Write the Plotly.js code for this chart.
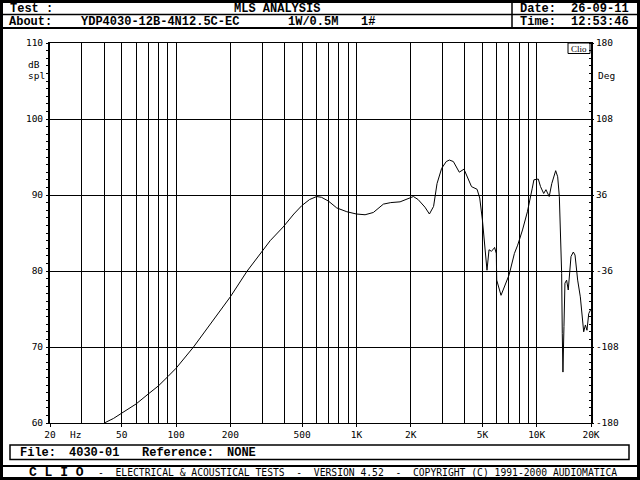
<!DOCTYPE html>
<html>
<head>
<meta charset="utf-8">
<script src="https://cdn.plot.ly/plotly-3.0.1.min.js"></script>
<style>html,body{margin:0;padding:0;background:#fff}#chart{width:640px;height:480px}</style>
</head>
<body>
<div id="chart"></div>
<script>
// Frequency response (Hz) and SPL (dB)
var freqHz = [40,45,50,60,70,80,90,100,125,150,200,248,290,333,393,450,498,550,602,640,700,778,885,1000,1117,1242,1412,1550,1747,1950,2071,2200,2400,2541,2680,2800,2970,3150,3280,3450,3600,3720,3950,4080,4350,4670,4830,5000,5150,5300,5440,5600,5720,5840,5970,6000,6340,6700,7030,7520,7840,8340,8880,9450,9650,10200,10500,10930,11250,11730,12120,12740,13070,13350,13640,13750,13860,13980,14160,14340,14650,14960,15490,15960,16310,16870,17450,18220,18620,19000,19430,20000];
var splDb = [60.0,60.6,61.3,62.5,63.8,64.9,66.1,67.2,70.0,72.6,76.6,80.0,82.2,84.0,85.8,87.5,88.6,89.4,89.8,89.7,89.2,88.3,87.8,87.5,87.4,87.7,88.8,89.0,89.1,89.6,89.8,89.4,88.4,87.5,88.5,91.5,93.5,94.4,94.6,94.4,93.6,93.0,93.4,92.6,91.1,90.75,89.6,86.7,82.8,80.1,82.8,82.6,82.8,83.1,82.3,78.8,76.8,78.4,79.5,82.3,83.4,85.4,87.8,90.9,92.0,92.1,91.1,90.2,90.7,89.8,91.5,93.2,92.4,89.8,84.1,79.7,71.8,66.7,72.7,78.4,78.8,77.5,81.9,82.5,82.1,78.8,76.6,72.0,72.9,72.2,74.4,75.0];

var xLabelVals = [20,50,100,200,500,1000,2000,5000,10000,20000];
var xLabelText = ['20','50','100','200','500','1K','2K','5K','10K','20K'];
var xGridVals = [30,40,50,60,70,80,90,100,200,300,400,500,600,700,800,900,1000,2000,3000,4000,5000,6000,7000,8000,9000,10000,20000];
var yTickVals = [60,70,80,90,100,110];
var y2TickVals = [-180,-108,-36,36,108,180];
var y2TickText = ['-180','-108','-36','36','108','180'];

var NB = '\u00a0';
function sp(s){ return s.replace(/ /g, NB); }
var L = 50, R = 591, T = 43, B = 423;
function px(x){ return (x - L) / (R - L); }
function py(y){ return (B - y) / (B - T); }

var mono = 'DejaVu Sans Mono, monospace';
var lmono = 'Liberation Mono, monospace';
var tickFont = {family: mono, size: 9.5, color: '#000'};

function ann(x, y, text, opts){
  opts = opts || {};
  return {xref:'paper', yref:'paper', x: px(x), y: py(y), text: sp(text), showarrow:false,
    xanchor: opts.xanchor || 'left', yanchor:'middle',
    font:{family: opts.family || lmono, size: opts.size || 12, color:'#000', weight: opts.weight || 'bold'}, borderpad:0};
}
function hline(y, x0, x1, w){
  return {type:'line', xref:'paper', yref:'paper', x0:px(x0), x1:px(x1), y0:py(y), y1:py(y), line:{color:'#000', width:w}};
}
function vline(x, y0, y1, w){
  return {type:'line', xref:'paper', yref:'paper', x0:px(x), x1:px(x), y0:py(y0), y1:py(y1), line:{color:'#000', width:w}};
}
function rect(x0, y0, x1, y1, w){
  return {type:'rect', xref:'paper', yref:'paper', x0:px(x0), x1:px(x1), y0:py(y0), y1:py(y1), line:{color:'#000', width:w}, fillcolor:'rgba(0,0,0,0)'};
}

var data = [
  {x: freqHz, y: splDb, type:'scatter', mode:'lines', line:{color:'#000', width:1}, hoverinfo:'skip'},
  {x: [20], y: [0], yaxis:'y2', type:'scatter', mode:'markers', marker:{opacity:0}, hoverinfo:'skip', showlegend:false}
];

var R1 = 9, R2 = 22;

var layout = {
  width: 640, height: 480,
  margin: {l: L, r: 640 - R, t: T, b: 480 - B, pad: 0},
  paper_bgcolor:'#fff', plot_bgcolor:'#fff',
  showlegend:false,
  xaxis: {
    type:'log', range:[Math.log10(20), Math.log10(20000)],
    tickmode:'array', tickvals: xLabelVals, ticktext: xLabelText,
    ticks:'outside', ticklen:3, tickwidth:1, tickcolor:'#000',
    showgrid:true, gridcolor:'#000', gridwidth:1,
    minor:{tickmode:'array', tickvals: xGridVals, showgrid:true, gridcolor:'#000', gridwidth:1, ticks:''},
    showline:true, linecolor:'#000', linewidth:1, mirror:true,
    tickfont: tickFont, zeroline:false, fixedrange:true
  },
  yaxis: {
    range:[60,110], tickmode:'array', tickvals: yTickVals,
    ticks:'outside', ticklen:2, tickwidth:1, tickcolor:'#000',
    minor:{dtick:1, ticks:'outside', ticklen:2, tickcolor:'#000', showgrid:false},
    showgrid:true, gridcolor:'#000', gridwidth:1,
    showline:true, linecolor:'#000', linewidth:2,
    tickfont: tickFont, zeroline:false, ticklabelstandoff:1
  },
  yaxis2: {
    overlaying:'y', side:'right', range:[-180,180],
    tickmode:'array', tickvals: y2TickVals, ticktext: y2TickText,
    ticks:'outside', ticklen:1, tickcolor:'#000',
    minor:{dtick:7.2, tick0:-180, ticks:'inside', ticklen:2, tickcolor:'#000', showgrid:false},
    showgrid:false, showline:true, linecolor:'#000', linewidth:2,
    tickfont: tickFont, zeroline:false
  },
  shapes: [
    rect(1.5, 1.5, 638.5, 478.5, 3),
    hline(14.5, 0, 640, 1.5),
    hline(28, 0, 640, 2),
    vline(512, 0, 28, 1.5),
    rect(10, 445, 629, 459.5, 1.5),
    hline(466, 0, 640, 2),
    rect(568, 43, 590, 53.5, 1)
  ],
  annotations: [
    ann(9, R1, 'Test :'),
    ann(277, R1, 'MLS ANALYSIS', {xanchor:'center'}),
    ann(519, R1, 'Date:'),
    ann(630, R1, '26-09-11', {xanchor:'right'}),
    ann(8, R2, 'About:'),
    ann(80, R2, 'YDP4030-12B-4N12.5C-EC'),
    ann(287, R2, '1W/0.5M'),
    ann(360, R2, '1#'),
    ann(519, R2, 'Time:'),
    ann(630, R2, '12:53:46', {xanchor:'right'}),
    ann(27, 64.5, 'dB', {size:9.5, family:mono, weight:'normal'}),
    ann(27, 75, 'spl', {size:9.5, family:mono, weight:'normal'}),
    ann(597, 75, 'Deg', {size:9.5, family:mono, weight:'normal'}),
    ann(579, 48.5, 'Clio', {xanchor:'center', size:9, family:'Liberation Serif, serif', weight:'normal'}),
    ann(69, 434, 'Hz', {size:9.5, family:mono, weight:'normal'}),
    ann(19, 452.5, 'File:'),
    ann(68, 452.5, '4030-01'),
    ann(141, 452.5, 'Reference:'),
    ann(226, 452.5, 'NONE'),
    ann(56.5, 472, 'C L I O', {xanchor:'center', size:13}),
    ann(97, 472, '-  ELECTRICAL & ACOUSTICAL TESTS  -  VERSION 4.52  -  COPYRIGHT (C) 1991-2000 AUDIOMATICA', {size:9.7, family:mono, weight:'normal'})
  ]
};

Plotly.newPlot('chart', data, layout, {staticPlot:true, displayModeBar:false});
</script>
</body>
</html>
